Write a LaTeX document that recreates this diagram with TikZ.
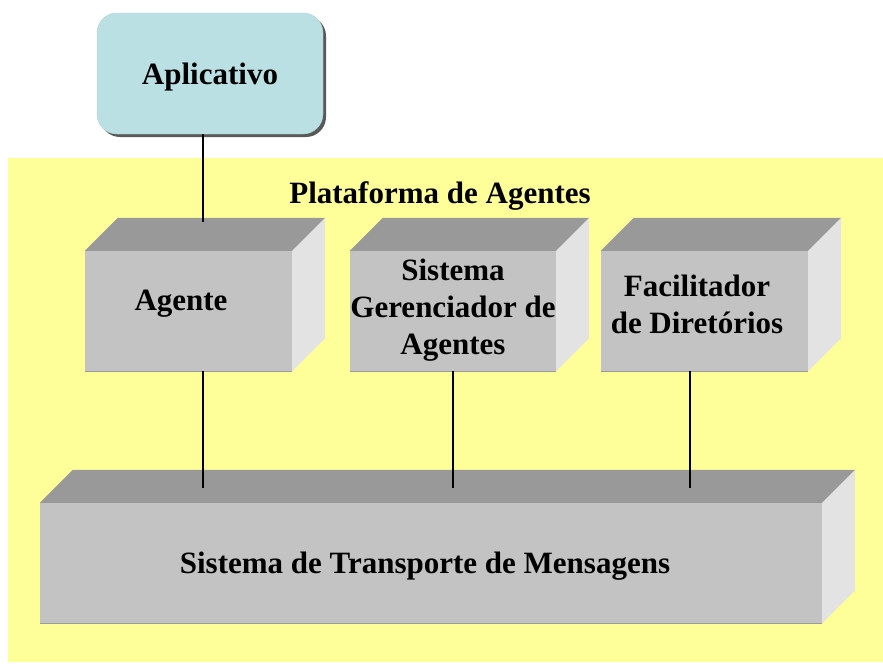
\documentclass[tikz,border=0pt]{standalone}
\usepackage{fontspec}
\setmainfont{Liberation Serif}
\usetikzlibrary{positioning,shadows}
\definecolor{plyellow}{HTML}{FFFF99}
\definecolor{apcyan}{HTML}{BBE0E3}
\definecolor{bxfront}{HTML}{C3C3C3}
\definecolor{bxtop}{HTML}{999999}
\definecolor{bxside}{HTML}{E3E3E3}
\tikzset{
  bloco/.style={rectangle, fill=bxfront, inner sep=0pt},
  rotulo/.style={align=center, inner sep=0pt, yshift=-3.5pt},
  liga/.style={draw=black, line width=1.3pt},
}
% faces de cima e do lado de um bloco
\newcommand{\faces}[2]{%
  \path (#1.north west) ++(#2,-#2) coordinate (#1-tl)
        (#1.north east) ++(#2,-#2) coordinate (#1-tr)
        (#1.south east) ++(#2,-#2) coordinate (#1-br)
        (#1.north west) ++({#2/2},{-#2/2}) coordinate (#1-mid);
  \fill[bxtop] (#1.north west) -- (#1-tl) -- (#1-tr) -- (#1.north east) -- cycle;
  \fill[bxside] (#1.north east) -- (#1-tr) -- (#1-br) -- (#1.south east) -- cycle;
  \draw[bxfront!80!black, line width=1pt] (#1.south west) -- (#1.south east);
}
\begin{document}
\begin{tikzpicture}[x=1pt, y=-1pt, every node/.style={font=\bfseries\fontsize{31}{37}\selectfont}]
  \useasboundingbox (0,0) rectangle (883,664);
  \fill[plyellow] (8,158) rectangle (883,662);
  \node[rotulo] (plat) at (440,193) {Plataforma de Agentes};

  \node[draw=apcyan!85!gray, fill=apcyan, rounded corners=20pt, minimum width=226pt, minimum height=121pt, text depth=0pt,
        drop shadow={shadow xshift=3pt, shadow yshift=-3pt, fill=gray!70!black, opacity=1}] (aplic) at (210,73.5) {Aplicativo};

  \node[bloco, minimum width=207pt, minimum height=120pt] (agente) at (188.5,311) {};
  \node[bloco, minimum width=206pt, minimum height=120pt] (sga) at (453,311) {};
  \node[bloco, minimum width=207pt, minimum height=120pt] (fdir) at (704.5,311) {};
  \node[bloco, minimum width=782pt, minimum height=120pt] (transp) at (431,563) {};
  \faces{agente}{33}
  \faces{sga}{33}
  \faces{fdir}{33}
  \faces{transp}{33}

  \node[rotulo] (agente-t) at (181,300) {Agente};
  \node[rotulo] (sga-t) at (453,307) {Sistema\\Gerenciador de\\Agentes};
  \node[rotulo] (fdir-t) at (697,301) {Facilitador\\de Diretórios};
  \node[rotulo] (transp-t) at (425,563) {Sistema de Transporte de Mensagens};

  \coordinate (x1) at (203,0);
  \coordinate (x2) at (453,0);
  \coordinate (x3) at (690,0);
  \draw[liga] (aplic.south -| x1) -- ([yshift=-4pt]agente-tl -| x1);
  \draw[liga] (agente.south -| x1) -- ([yshift=-2pt]transp-mid -| x1);
  \draw[liga] (sga.south -| x2) -- ([yshift=-2pt]transp-mid -| x2);
  \draw[liga] (fdir.south -| x3) -- ([yshift=-2pt]transp-mid -| x3);
\end{tikzpicture}
\end{document}
